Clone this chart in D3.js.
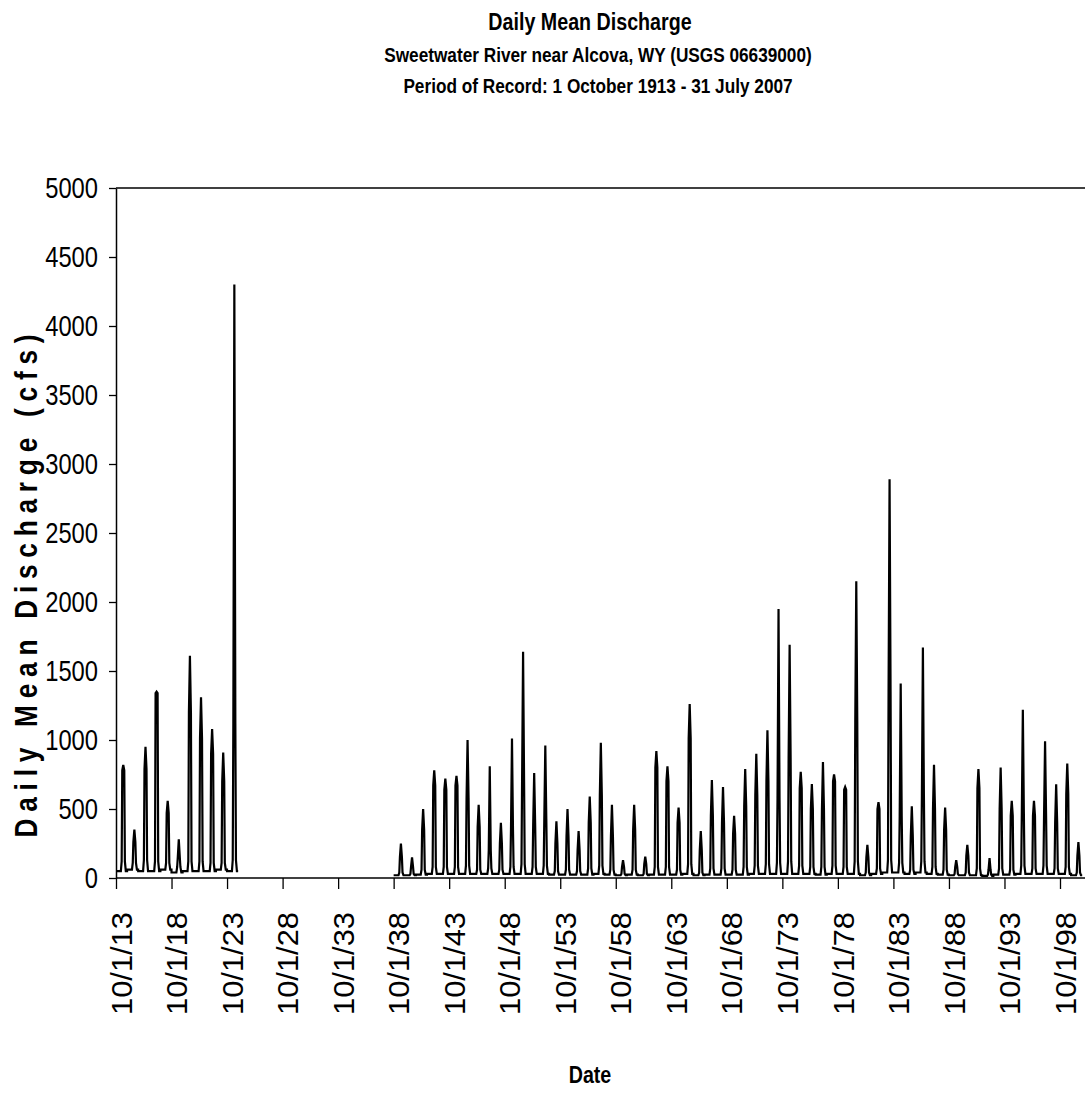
<!DOCTYPE html>
<html>
<head>
<meta charset="utf-8">
<script src="https://cdn.jsdelivr.net/npm/d3@7"></script>
<style>
	body { margin: 0; background: #fff; }
	text { font-family: "Liberation Sans", Arial, sans-serif; fill: #000; }
</style>
</head>
<body>
<svg id="chart"></svg>
<script>
// water years (Oct 1 of previous year .. Sep 30)
const waterYears = [
	1914, 1915, 1916, 1917, 1918, 1919, 1920, 1921, 1922, 1923, 1924,
	1939, 1940, 1941, 1942, 1943, 1944, 1945, 1946, 1947, 1948, 1949,
	1950, 1951, 1952, 1953, 1954, 1955, 1956, 1957, 1958, 1959, 1960,
	1961, 1962, 1963, 1964, 1965, 1966, 1967, 1968, 1969, 1970, 1971,
	1972, 1973, 1974, 1975, 1976, 1977, 1978, 1979, 1980, 1981, 1982,
	1983, 1984, 1985, 1986, 1987, 1988, 1989, 1990, 1991, 1992, 1993,
	1994, 1995, 1996, 1997, 1998, 1999, 2000
];
// spring peak daily mean (cfs)
const peakFlow = [
	820, 350, 950, 1350, 560, 280, 1610, 1310, 1080, 910, 4300,
	250, 150, 500, 780, 720, 740, 1000, 530, 810, 400, 1010,
	1640, 760, 960, 410, 500, 340, 590, 980, 530, 130, 530,
	155, 920, 810, 510, 1260, 340, 710, 660, 450, 790, 900,
	1070, 1950, 1690, 770, 680, 840, 750, 660, 2150, 240, 550,
	2890, 1410, 520, 1670, 820, 510, 130, 240, 790, 145, 800,
	560, 1220, 560, 990, 680, 830, 260
];
// shoulder level either side of the peak (cfs)
const secondFlow = [
	780, 260, 790, 1340, 470, 150, 1200, 1010, 900, 700, 1120,
	150, 80, 350, 670, 640, 670, 580, 370, 200, 250, 350,
	700, 380, 430, 250, 300, 200, 400, 600, 300, 80, 350,
	100, 800, 700, 400, 1010, 200, 450, 400, 320, 520, 600,
	700, 580, 870, 650, 500, 500, 700, 640, 1130, 150, 500,
	1350, 450, 300, 600, 500, 350, 80, 160, 650, 60, 500,
	450, 480, 450, 460, 400, 610, 160
];
// early summer recession level (cfs)
const summerFlow = [
	120, 110, 130, 120, 110, 80, 120, 120, 110, 110, 130,
	40, 30, 60, 80, 80, 80, 90, 60, 70, 60, 80,
	100, 80, 90, 50, 60, 50, 70, 90, 60, 30, 60,
	30, 80, 80, 60, 100, 40, 70, 70, 60, 80, 90,
	100, 110, 120, 90, 80, 80, 90, 80, 120, 40, 70,
	130, 110, 60, 120, 80, 60, 30, 40, 70, 25, 70,
	60, 90, 70, 90, 70, 80, 40
];
// winter base flow (cfs)
const baseFlow = [
	50, 60, 50, 50, 60, 40, 50, 50, 50, 60, 50,
	20, 20, 25, 30, 30, 30, 30, 30, 30, 30, 30,
	30, 30, 30, 25, 25, 25, 25, 30, 25, 20, 25,
	20, 25, 25, 25, 30, 20, 25, 25, 25, 25, 30,
	30, 30, 30, 30, 30, 25, 30, 30, 30, 20, 30,
	40, 40, 30, 40, 30, 25, 20, 20, 20, 15, 25,
	25, 30, 30, 30, 30, 30, 20
];
// month-day points of each water year and which level they take
const seasonDates = ["10-01", "03-10", "04-05", "04-25", "05-28", "06-30", "07-20", "08-20", "09-30"];
const seasonLevel = ["base", "base", "summer", "second", "peak", "second", "summer", "base", "base"];

const yTicks = [0, 500, 1000, 1500, 2000, 2500, 3000, 3500, 4000, 4500, 5000];
const tickYears = [1913, 1918, 1923, 1928, 1933, 1938, 1943, 1948, 1953, 1958, 1963, 1968, 1973, 1978, 1983, 1988, 1993, 1998];

const titleLines = [
	"Daily Mean Discharge",
	"Sweetwater River near Alcova, WY (USGS 06639000)",
	"Period of Record: 1 October 1913 - 31 July 2007"
];
const yTitle = "Daily Mean Discharge (cfs)";
const xTitle = "Date";

const width = 1085;
const height = 1108;
const margin = {top: 188, left: 116, bottom: 878};
const narrow = 0.82; // Arial Narrow look from Liberation Sans

const svg = d3.select("#chart")
	.attr("width", width)
	.attr("height", height);

const x = d3.scaleTime()
	.domain([new Date(1913, 9, 1), new Date(1998, 9, 1)])
	.range([margin.left, 1060]);

const y = d3.scaleLinear()
	.domain([0, 5000])
	.range([margin.bottom, margin.top]);

const levels = {peak: peakFlow, second: secondFlow, summer: summerFlow, base: baseFlow};

// build the series, one run of points per water year
const points = [];
waterYears.forEach((wy, i) => {
	if (i > 0 && wy - waterYears[i - 1] > 1) {
		points.push({date: new Date(waterYears[i - 1], 9, 1), v: null});
	}
	seasonDates.forEach((md, j) => {
		const [m, d] = md.split("-").map(Number);
		const yr = m >= 10 ? wy - 1 : wy;
		points.push({date: new Date(yr, m - 1, d), v: levels[seasonLevel[j]][i]});
	});
});

// plot frame: top border
svg.append("line")
	.attr("x1", margin.left).attr("x2", width)
	.attr("y1", y(5000)).attr("y2", y(5000))
	.attr("stroke", "#000").attr("stroke-width", 1.5);

const line = d3.line()
	.defined(d => d.v !== null)
	.x(d => x(d.date))
	.y(d => y(d.v));

svg.append("path")
	.datum(points)
	.attr("fill", "none")
	.attr("stroke", "#000")
	.attr("stroke-width", 2.2)
	.attr("stroke-linejoin", "miter")
	.attr("d", line);

// y axis
const yAxis = svg.append("g")
	.attr("transform", `translate(${margin.left},0)`)
	.call(d3.axisLeft(y).tickValues(yTicks).tickSize(7).tickSizeOuter(0).tickPadding(11)
		.tickFormat(d3.format("d")));

yAxis.select(".domain").attr("stroke-width", 1.5);
yAxis.selectAll(".tick line").attr("stroke-width", 1.3);
yAxis.selectAll(".tick text")
	.attr("font-size", 29)
	.attr("font-family", null)
	.attr("textLength", d => String(d).length * 13.2)
	.attr("lengthAdjust", "spacingAndGlyphs");

// x axis
const tickDates = tickYears.map(yr => new Date(yr, 9, 1));
const xAxis = svg.append("g")
	.attr("transform", `translate(0,${margin.bottom})`)
	.call(d3.axisBottom(x).tickValues(tickDates).tickSize(11).tickSizeOuter(0)
		.tickFormat(d3.timeFormat("%-m/%-d/%y")));

xAxis.select(".domain")
	.attr("d", `M${margin.left},0H${width}`)
	.attr("stroke-width", 1.5);
xAxis.selectAll(".tick line").attr("stroke-width", 1.3);
xAxis.selectAll(".tick text")
	.attr("font-size", 29)
	.attr("font-family", null)
	.attr("text-anchor", "end")
	.attr("transform", "rotate(-90)")
	.attr("x", -34)
	.attr("y", 5)
	.attr("dy", "0.35em")
	.attr("textLength", 103)
	.attr("lengthAdjust", "spacingAndGlyphs");

// titles: narrow bold glyphs
const titleFmt = [
	{x: 590, y: 30, size: 24},
	{x: 598, y: 62, size: 21},
	{x: 598, y: 93, size: 21}
];
titleLines.forEach((t, i) => {
	const f = titleFmt[i];
	svg.append("text")
		.attr("transform", `translate(${f.x},${f.y}) scale(${narrow},1)`)
		.attr("text-anchor", "middle")
		.attr("font-weight", "bold")
		.attr("font-size", f.size)
		.text(t);
});

svg.append("text")
	.attr("transform", `translate(37,586) rotate(-90) scale(${narrow},1)`)
	.attr("text-anchor", "middle")
	.attr("font-weight", "bold")
	.attr("font-size", 32)
	.attr("textLength", 503 / narrow)
	.attr("lengthAdjust", "spacing")
	.text(yTitle);

svg.append("text")
	.attr("transform", `translate(590,1083) scale(${narrow},1)`)
	.attr("text-anchor", "middle")
	.attr("font-weight", "bold")
	.attr("font-size", 24)
	.text(xTitle);
</script>
</body>
</html>
